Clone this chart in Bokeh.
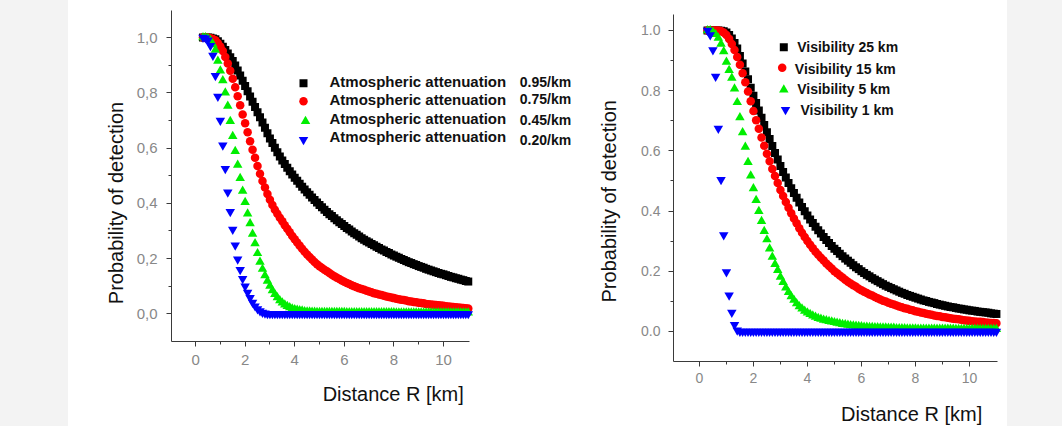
import math
from bokeh.plotting import figure
from bokeh.models import Range1d, FixedTicker, CustomJSTickFormatter, Label, Div
from bokeh.layouts import row
from bokeh.embed import file_html
from bokeh.resources import INLINE

# ---------------- data ----------------
distance_km = [
    0.3, 0.4, 0.5, 0.6, 0.7, 0.8, 0.9, 1.0, 1.1, 1.2,
    1.3, 1.4, 1.5, 1.6, 1.7, 1.8, 1.9, 2.0, 2.1, 2.2,
    2.3, 2.4, 2.5, 2.6, 2.7, 2.8, 2.9, 3.0, 3.1, 3.2,
    3.3, 3.4, 3.5, 3.6, 3.7, 3.8, 3.9, 4.0, 4.1, 4.2,
    4.3, 4.4, 4.5, 4.6, 4.7, 4.8, 4.9, 5.0, 5.1, 5.2,
    5.3, 5.4, 5.5, 5.6, 5.7, 5.8, 5.9, 6.0, 6.1, 6.2,
    6.3, 6.4, 6.5, 6.6, 6.7, 6.8, 6.9, 7.0, 7.1, 7.2,
    7.3, 7.4, 7.5, 7.6, 7.7, 7.8, 7.9, 8.0, 8.1, 8.2,
    8.3, 8.4, 8.5, 8.6, 8.7, 8.8, 8.9, 9.0, 9.1, 9.2,
    9.3, 9.4, 9.5, 9.6, 9.7, 9.8, 9.9, 10.0, 10.1, 10.2,
    10.3, 10.4, 10.5, 10.6, 10.7, 10.8, 10.9, 11.0]

# Left panel: atmospheric attenuation
att_095 = [
    1.000, 1.000, 1.000, 0.999, 0.997, 0.994, 0.987, 0.978, 0.967, 0.955,
    0.942, 0.929, 0.915, 0.899, 0.881, 0.863, 0.844, 0.825, 0.806, 0.787,
    0.768, 0.749, 0.730, 0.712, 0.693, 0.674, 0.654, 0.635, 0.618, 0.601,
    0.585, 0.570, 0.555, 0.542, 0.529, 0.516, 0.504, 0.493, 0.482, 0.471,
    0.460, 0.450, 0.440, 0.431, 0.421, 0.412, 0.403, 0.394, 0.386, 0.377,
    0.369, 0.361, 0.354, 0.346, 0.339, 0.332, 0.325, 0.318, 0.311, 0.305,
    0.298, 0.292, 0.286, 0.280, 0.274, 0.268, 0.263, 0.258, 0.253, 0.248,
    0.243, 0.238, 0.233, 0.229, 0.224, 0.220, 0.215, 0.211, 0.207, 0.203,
    0.199, 0.195, 0.191, 0.187, 0.184, 0.180, 0.177, 0.173, 0.170, 0.167,
    0.163, 0.160, 0.157, 0.154, 0.151, 0.148, 0.145, 0.143, 0.140, 0.137,
    0.134, 0.132, 0.129, 0.127, 0.124, 0.122, 0.119, 0.117]
att_075 = [
    1.000, 1.000, 1.000, 0.998, 0.995, 0.990, 0.980, 0.968, 0.951, 0.930,
    0.906, 0.880, 0.851, 0.820, 0.788, 0.755, 0.722, 0.690, 0.657, 0.625,
    0.594, 0.565, 0.535, 0.507, 0.481, 0.457, 0.434, 0.413, 0.394, 0.377,
    0.362, 0.348, 0.335, 0.321, 0.308, 0.295, 0.282, 0.270, 0.258, 0.247,
    0.236, 0.225, 0.215, 0.206, 0.197, 0.188, 0.180, 0.172, 0.166, 0.160,
    0.154, 0.148, 0.142, 0.136, 0.131, 0.126, 0.121, 0.116, 0.112, 0.108,
    0.104, 0.100, 0.096, 0.093, 0.090, 0.087, 0.084, 0.081, 0.078, 0.075,
    0.073, 0.070, 0.068, 0.066, 0.063, 0.061, 0.059, 0.057, 0.055, 0.053,
    0.051, 0.050, 0.048, 0.046, 0.045, 0.043, 0.042, 0.040, 0.039, 0.038,
    0.036, 0.035, 0.034, 0.033, 0.032, 0.031, 0.030, 0.029, 0.028, 0.027,
    0.026, 0.025, 0.024, 0.023, 0.022, 0.021, 0.020, 0.019]
att_045 = [
    1.000, 1.000, 0.998, 0.990, 0.975, 0.955, 0.915, 0.880, 0.845, 0.800,
    0.752, 0.697, 0.643, 0.589, 0.539, 0.491, 0.445, 0.404, 0.362, 0.327,
    0.289, 0.255, 0.219, 0.188, 0.162, 0.139, 0.119, 0.101, 0.085, 0.071,
    0.059, 0.048, 0.040, 0.033, 0.028, 0.023, 0.019, 0.016, 0.014, 0.012,
    0.011, 0.009, 0.008, 0.008, 0.007, 0.007, 0.006, 0.006, 0.006, 0.006,
    0.006, 0.006, 0.006, 0.006, 0.006, 0.006, 0.006, 0.006, 0.005, 0.005,
    0.005, 0.005, 0.005, 0.005, 0.005, 0.005, 0.005, 0.005, 0.005, 0.005,
    0.005, 0.005, 0.005, 0.005, 0.005, 0.005, 0.005, 0.005, 0.004, 0.004,
    0.004, 0.004, 0.004, 0.004, 0.004, 0.004, 0.004, 0.004, 0.004, 0.004,
    0.004, 0.004, 0.004, 0.004, 0.004, 0.004, 0.004, 0.004, 0.004, 0.004,
    0.004, 0.004, 0.004, 0.004, 0.004, 0.004, 0.004, 0.004]
att_020 = [
    1.000, 0.998, 0.990, 0.970, 0.935, 0.862, 0.787, 0.700, 0.610, 0.525,
    0.440, 0.370, 0.305, 0.248, 0.198, 0.160, 0.127, 0.100, 0.077, 0.058,
    0.041, 0.028, 0.018, 0.010, 0.005, 0.002, 0.000, 0.000, 0.000, 0.000,
    0.000, 0.000, 0.000, 0.000, 0.000, 0.000, 0.000, 0.000, 0.000, 0.000,
    0.000, 0.000, 0.000, 0.000, 0.000, 0.000, 0.000, 0.000, 0.000, 0.000,
    0.000, 0.000, 0.000, 0.000, 0.000, 0.000, 0.000, 0.000, 0.000, 0.000,
    0.000, 0.000, 0.000, 0.000, 0.000, 0.000, 0.000, 0.000, 0.000, 0.000,
    0.000, 0.000, 0.000, 0.000, 0.000, 0.000, 0.000, 0.000, 0.000, 0.000,
    0.000, 0.000, 0.000, 0.000, 0.000, 0.000, 0.000, 0.000, 0.000, 0.000,
    0.000, 0.000, 0.000, 0.000, 0.000, 0.000, 0.000, 0.000, 0.000, 0.000,
    0.000, 0.000, 0.000, 0.000, 0.000, 0.000, 0.000, 0.000]

# Right panel: visibility
vis_25 = [
    1.000, 1.000, 1.000, 1.000, 1.000, 0.999, 0.997, 0.993, 0.985, 0.973,
    0.958, 0.940, 0.915, 0.890, 0.864, 0.838, 0.810, 0.783, 0.759, 0.734,
    0.710, 0.686, 0.662, 0.639, 0.616, 0.593, 0.571, 0.550, 0.530, 0.511,
    0.493, 0.476, 0.460, 0.444, 0.428, 0.413, 0.399, 0.385, 0.372, 0.360,
    0.348, 0.336, 0.325, 0.314, 0.304, 0.294, 0.284, 0.275, 0.267, 0.258,
    0.250, 0.242, 0.235, 0.228, 0.220, 0.213, 0.207, 0.200, 0.194, 0.188,
    0.183, 0.177, 0.172, 0.167, 0.162, 0.157, 0.152, 0.148, 0.144, 0.140,
    0.136, 0.132, 0.128, 0.125, 0.121, 0.118, 0.115, 0.112, 0.109, 0.106,
    0.103, 0.101, 0.098, 0.096, 0.094, 0.091, 0.089, 0.087, 0.085, 0.083,
    0.081, 0.080, 0.078, 0.076, 0.075, 0.073, 0.072, 0.070, 0.069, 0.068,
    0.066, 0.065, 0.064, 0.063, 0.062, 0.060, 0.059, 0.058]
vis_15 = [
    1.000, 1.000, 1.000, 1.000, 1.000, 0.998, 0.993, 0.985, 0.972, 0.955,
    0.935, 0.912, 0.886, 0.858, 0.828, 0.797, 0.765, 0.732, 0.702, 0.673,
    0.644, 0.617, 0.590, 0.565, 0.540, 0.516, 0.493, 0.470, 0.450, 0.430,
    0.411, 0.393, 0.375, 0.359, 0.343, 0.328, 0.314, 0.300, 0.288, 0.276,
    0.265, 0.255, 0.245, 0.236, 0.226, 0.217, 0.209, 0.200, 0.193, 0.186,
    0.179, 0.172, 0.165, 0.159, 0.153, 0.148, 0.142, 0.137, 0.132, 0.128,
    0.123, 0.119, 0.114, 0.110, 0.106, 0.102, 0.099, 0.095, 0.092, 0.089,
    0.086, 0.083, 0.080, 0.077, 0.075, 0.072, 0.070, 0.067, 0.065, 0.063,
    0.061, 0.059, 0.057, 0.055, 0.053, 0.051, 0.050, 0.048, 0.047, 0.045,
    0.044, 0.042, 0.041, 0.040, 0.039, 0.037, 0.036, 0.035, 0.034, 0.033,
    0.032, 0.032, 0.031, 0.030, 0.029, 0.028, 0.028, 0.027]
vis_5 = [
    1.000, 1.000, 0.995, 0.987, 0.975, 0.955, 0.930, 0.895, 0.868, 0.842,
    0.806, 0.761, 0.711, 0.661, 0.613, 0.562, 0.517, 0.475, 0.436, 0.399,
    0.366, 0.333, 0.305, 0.275, 0.247, 0.223, 0.203, 0.181, 0.163, 0.145,
    0.130, 0.116, 0.104, 0.093, 0.083, 0.075, 0.068, 0.062, 0.057, 0.052,
    0.048, 0.044, 0.041, 0.038, 0.036, 0.034, 0.032, 0.030, 0.028, 0.026,
    0.024, 0.023, 0.021, 0.020, 0.019, 0.018, 0.017, 0.016, 0.015, 0.015,
    0.014, 0.014, 0.013, 0.013, 0.012, 0.012, 0.012, 0.011, 0.011, 0.011,
    0.010, 0.010, 0.010, 0.010, 0.009, 0.009, 0.009, 0.009, 0.008, 0.008,
    0.008, 0.008, 0.008, 0.008, 0.008, 0.008, 0.008, 0.008, 0.008, 0.008,
    0.008, 0.008, 0.007, 0.007, 0.007, 0.007, 0.007, 0.007, 0.007, 0.007,
    0.007, 0.007, 0.007, 0.007, 0.007, 0.007, 0.007, 0.007]
vis_1 = [
    1.000, 0.985, 0.935, 0.847, 0.674, 0.504, 0.320, 0.197, 0.120, 0.063,
    0.022, 0.004, 0.000, 0.000, 0.000, 0.000, 0.000, 0.000, 0.000, 0.000,
    0.000, 0.000, 0.000, 0.000, 0.000, 0.000, 0.000, 0.000, 0.000, 0.000,
    0.000, 0.000, 0.000, 0.000, 0.000, 0.000, 0.000, 0.000, 0.000, 0.000,
    0.000, 0.000, 0.000, 0.000, 0.000, 0.000, 0.000, 0.000, 0.000, 0.000,
    0.000, 0.000, 0.000, 0.000, 0.000, 0.000, 0.000, 0.000, 0.000, 0.000,
    0.000, 0.000, 0.000, 0.000, 0.000, 0.000, 0.000, 0.000, 0.000, 0.000,
    0.000, 0.000, 0.000, 0.000, 0.000, 0.000, 0.000, 0.000, 0.000, 0.000,
    0.000, 0.000, 0.000, 0.000, 0.000, 0.000, 0.000, 0.000, 0.000, 0.000,
    0.000, 0.000, 0.000, 0.000, 0.000, 0.000, 0.000, 0.000, 0.000, 0.000,
    0.000, 0.000, 0.000, 0.000, 0.000, 0.000, 0.000, 0.000]

left_names = ["Atmospheric attenuation"] * 4
left_values = ["0.95/km", "0.75/km", "0.45/km", "0.20/km"]
right_names = ["Visibility 25 km", "Visibility 15 km", "Visibility 5 km", "Visibility 1 km"]
x_title = "Distance R [km]"
y_title = "Probability of detection"
x_major_ticks = [0, 2, 4, 6, 8, 10]
x_minor_ticks = [1, 3, 5, 7, 9]
y_major_ticks = [0.0, 0.2, 0.4, 0.6, 0.8, 1.0]
y_minor_ticks = [0.1, 0.3, 0.5, 0.7, 0.9]

# ---------------- styling / layout ----------------
colors = ["#000000", "#ff0000", "#00ee00", "#0000ff"]
markers = ["square", "circle", "triangle", "inverted_triangle"]
sizes = [8, 8.5, 9.5, 9.5]
FONT = "Liberation Sans"
TICK_COLOR = "#888888"
AXIS_COLOR = "#3a3a3a"
H = 426
PAD_L, SPLIT, PAD_R_START = 68, 575, 1007
BASE_SHIFT = 6   # correction between intended and rendered text baseline


class Panel:
    """Maps page pixels to data units for one chart panel."""

    def __init__(self, page_x0, page_x1, ax_x, ax_px, ax_y, ax_py):
        self.xr = ax_x
        self.yr = ax_y
        self.kx = (ax_px[1] - ax_px[0]) / (ax_x[1] - ax_x[0])
        self.ky = (ax_py[1] - ax_py[0]) / (ax_y[1] - ax_y[0])
        self.x0 = ax_px[0] - ax_x[0] * self.kx
        self.y0 = ax_py[1] + ax_y[0] * self.ky
        self.page_x0, self.page_x1 = page_x0, page_x1

    def d(self, px, py):
        return (px - self.x0) / self.kx, (self.y0 - py) / self.ky

    def ranges(self):
        (a, top), (b, bottom) = self.d(self.page_x0, 0), self.d(self.page_x1, H)
        return (a, b), (bottom, top)


left = Panel(PAD_L, SPLIT, (-0.97, 11.05), (171, 469), (-0.1, 1.098), (10, 341))
right = Panel(SPLIT, PAD_R_START, (-0.96, 11.04), (673, 997), (-0.1, 1.053), (14, 361))


def make_fig(panel, tick_px, comma, x_std, y_std):
    xr, yr = panel.ranges()
    p = figure(width=panel.page_x1 - panel.page_x0, height=H,
               x_range=Range1d(*xr), y_range=Range1d(*yr),
               output_backend="svg", toolbar_location=None,
               min_border_left=0, min_border_right=0, min_border_top=0, min_border_bottom=0)
    p.grid.visible = False
    p.outline_line_color = None
    p.background_fill_color = "white"
    p.border_fill_color = "white"
    p.xaxis.ticker = FixedTicker(ticks=x_major_ticks, minor_ticks=x_minor_ticks)
    p.yaxis.ticker = FixedTicker(ticks=y_major_ticks, minor_ticks=y_minor_ticks)
    sep = "','" if comma else "'.'"
    p.yaxis.formatter = CustomJSTickFormatter(code="return tick.toFixed(1).replace('.', %s);" % sep)
    p.xaxis.fixed_location = panel.yr[0]
    p.xaxis.bounds = panel.xr
    p.yaxis.fixed_location = panel.xr[0]
    p.yaxis.bounds = panel.yr
    for ax in (p.xaxis[0], p.yaxis[0]):
        ax.axis_line_color = AXIS_COLOR
        ax.major_tick_line_color = AXIS_COLOR
        ax.minor_tick_line_color = AXIS_COLOR
        ax.major_tick_in = 0
        ax.major_tick_out = 5
        ax.minor_tick_in = 0
        ax.minor_tick_out = 3
        ax.major_label_text_color = TICK_COLOR
        ax.major_label_text_font = FONT
        ax.major_label_text_font_size = tick_px
    p.xaxis.major_label_standoff = x_std
    p.yaxis.major_label_standoff = y_std
    return p


pl = make_fig(left, "15px", True, 8, 9)
pr = make_fig(right, "14px", False, 6, 8)

for fig, series in ((pl, [att_095, att_075, att_045, att_020]),
                    (pr, [vis_25, vis_15, vis_5, vis_1])):
    for i in range(4):
        fig.scatter(distance_km, series[i], marker=markers[i], size=sizes[i],
                    fill_color=colors[i], line_color=None)


def add_text(p, panel, px, py, text, size, style="normal", align="left", angle=0.0):
    # px, py: page position of the text baseline anchor
    if angle:
        px -= BASE_SHIFT
    else:
        py -= BASE_SHIFT
    x, y = panel.d(px, py)
    p.add_layout(Label(x=x, y=y, text=text, text_font=FONT, text_font_size=size,
                       text_font_style=style, text_color="#111111", text_align=align,
                       text_baseline="alphabetic", angle=angle, angle_units="rad"))


# axis titles
add_text(pl, left, 121.0, 202.5, y_title, "20px", align="center", angle=math.pi / 2)
add_text(pl, left, 463.3, 399.5, x_title, "20px", align="right")
add_text(pr, right, 614.0, 200.8, y_title, "20px", align="center", angle=math.pi / 2)
add_text(pr, right, 981.7, 419.3, x_title, "20px", align="right")

# legends
left_marker_pos = [(303, 82.7), (303, 100.7), (305, 120.7), (303, 139.3)]
left_text_base = [87.0, 105.4, 124.0, 142.4]
left_value_base = [87.3, 104.0, 125.7, 145.0]
for i in range(4):
    mx, my = left.d(*left_marker_pos[i])
    pl.scatter([mx], [my], marker=markers[i], size=sizes[i], fill_color=colors[i], line_color=None)
    add_text(pl, left, 329, left_text_base[i], left_names[i], "15px", style="bold")
    add_text(pl, left, 519.3, left_value_base[i], left_values[i], "14px", style="bold")

right_marker_pos = [(783.3, 46.7), (781.7, 67.3), (783.3, 89.3), (785, 109.3)]
right_text_pos = [(796.7, 52.7), (794.3, 74.0), (796.7, 94.0), (800.0, 115.0)]
for i in range(4):
    mx, my = right.d(*right_marker_pos[i])
    pr.scatter([mx], [my], marker=markers[i], size=sizes[i], fill_color=colors[i], line_color=None)
    add_text(pr, right, right_text_pos[i][0], right_text_pos[i][1], right_names[i], "14px", style="bold")

left_pad = Div(width=PAD_L, height=H, margin=0, styles={"background-color": "#f3f3f3"})
right_pad = Div(width=1062 - PAD_R_START, height=H, margin=0, styles={"background-color": "#f3f3f3"})

layout = row(left_pad, pl, pr, right_pad)
open("out.html", "w").write(file_html(layout, INLINE))
